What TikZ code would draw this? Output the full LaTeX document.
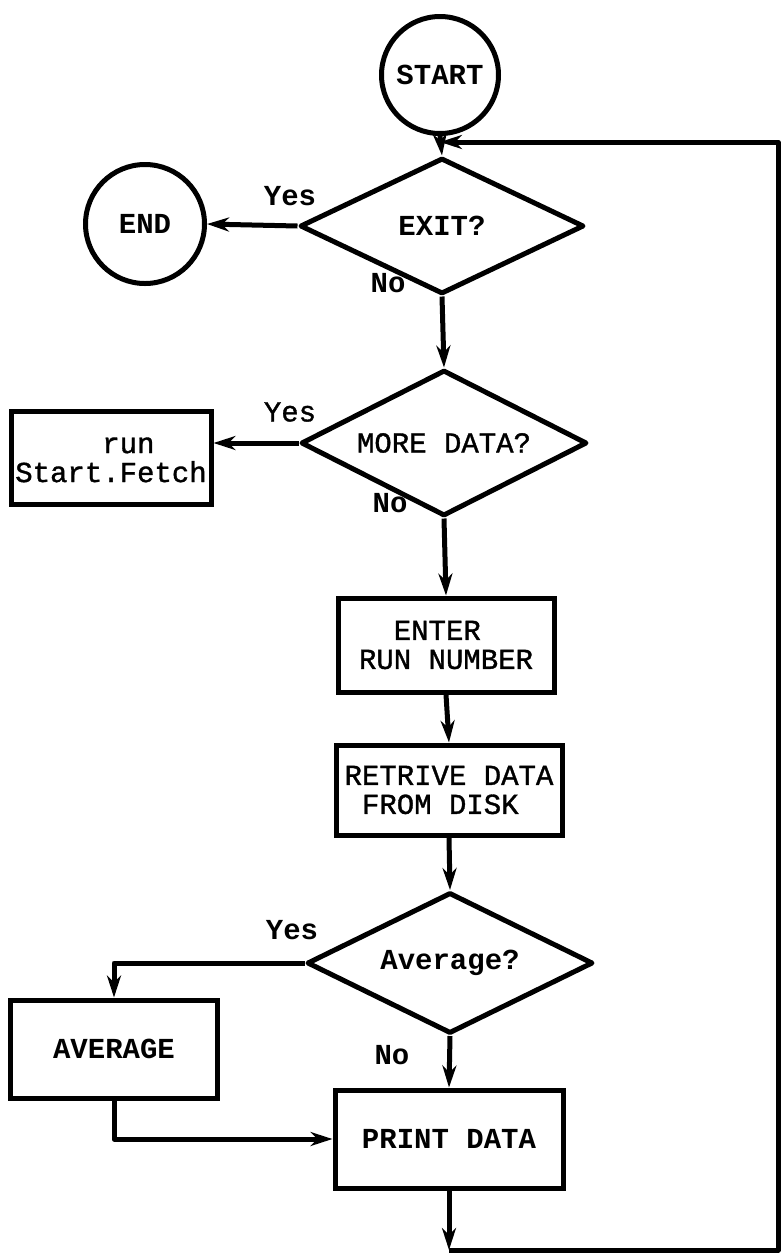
\documentclass[tikz,border=0pt]{standalone}
\usepackage{fontspec}
\setmainfont{Liberation Mono}
\newfontfamily\medtype[FakeBold=1.2]{Liberation Mono}
\usetikzlibrary{shapes.geometric,arrows.meta}

\tikzset{
  heavy/.style={font=\fontsize{29}{29}\selectfont\bfseries},
  medium/.style={font=\medtype\fontsize{29}{29}\selectfont},
  flow/.style={line width=5pt, line join=round},
  arr/.style={flow, -{Stealth[length=22pt,width=14pt,inset=7pt]}},
  term/.style={draw, line width=5pt, circle, inner sep=0pt, heavy},
  choice/.style={draw, line width=5pt, diamond, shape aspect=2, inner sep=0pt, line join=round},
  stepbox/.style={draw, line width=5pt, rectangle, inner sep=0pt},
  tag/.style={inner sep=0pt, heavy}
}

\begin{document}
\begin{tikzpicture}[x=1pt, y=-1pt]
\useasboundingbox (0,0) rectangle (781,1254);

% terminals
\node[term, minimum size=117pt] (start) at (440,75) {START};
\node[term, minimum size=119pt] (end) at (145,224) {END};

% decisions
\node[choice, heavy, minimum width=284pt, minimum height=136pt] (exit) at (442,226) {EXIT?};
\node[choice, medium, minimum width=286pt, minimum height=146pt] (more) at (444,443) {MORE DATA?};
\node[choice, heavy, minimum width=286pt, minimum height=141pt] (avg) at (450,963) {Average?};

% process boxes
\node[stepbox, medium, minimum width=200pt, minimum height=93pt, align=left] (fetch) at (111,458) {\phantom{Start}run\\Start.Fetch};
\node[stepbox, medium, minimum width=216pt, minimum height=94pt, align=left] (enter) at (446,645) {\phantom{RU}ENTER\\RUN NUMBER};
\node[stepbox, medium, minimum width=226pt, minimum height=90pt, align=left] (retr) at (449,790) {RETRIVE DATA\\\phantom{R}FROM DISK};
\node[stepbox, heavy, minimum width=207pt, minimum height=98pt] (avgbox) at (114,1049) {AVERAGE};
\node[stepbox, heavy, minimum width=228pt, minimum height=98pt] (print) at (449,1139) {PRINT DATA};

% branch labels
\node[tag] (yes1) at (290,196) {Yes};
\node[tag] (no1) at (388,283) {No};
\node[tag, medium] (yes2) at (290,412) {Yes};
\node[tag] (no2) at (390,503) {No};
\node[tag] (yes3) at (292,930) {Yes};
\node[tag] (no3) at (392,1055) {No};

% loop-back path
\coordinate (J) at (440,142);
\coordinate (TR) at (778,142);
\coordinate (BR) at (778,1250);
\coordinate (B) at (449,1250);

% connectors
\draw[arr] (start.south) -- (exit.north);
\draw[arr] (exit.west) -- (end.east);
\draw[arr] (exit.south) -- (more.north);
\draw[arr] (more.west) -- (more.west -| fetch.east);
\draw[arr] (more.south) -- (enter.north);
\draw[arr] (enter.south) -- (retr.north);
\draw[arr] (retr.south) -- (avg.north);
\draw[arr] (avg.west) -| (avgbox.north);
\draw[arr] (avg.south) -- (print.north);
\draw[arr] (avgbox.south) |- (print.west);
\draw[arr] (print.south) -- (B);
\draw[arr] (B) -- (BR) -- (TR) -- (J);
\end{tikzpicture}
\end{document}
